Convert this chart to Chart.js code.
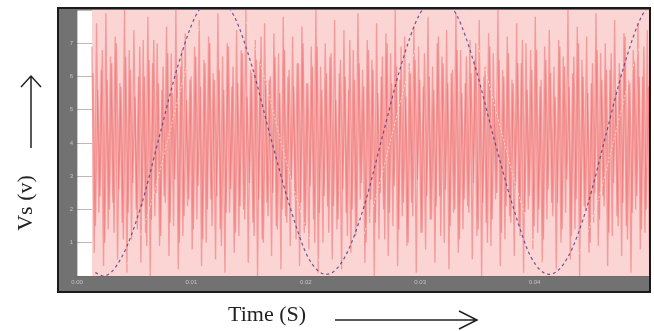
<!DOCTYPE html>
<html>
<head>
<meta charset="utf-8">
<script src="https://cdn.jsdelivr.net/npm/chart.js@4.4.1/dist/chart.umd.min.js"></script>
<style>
  html, body { margin: 0; padding: 0; background: #fff; }
  canvas { display: block; }
</style>
</head>
<body>
<canvas id="grafico" width="654" height="331"></canvas>
<script>
// Vs ruidosa: picos altos y valles alternados, muestreados desde T0 cada DT
const T0 = 0.13;
const DT = 0.0204;
const vsRuido = [
    6.9, 0.7, 7.6, 1.9, 6.2, 0.3, 7.9, 1.4, 6.6, 2.2, 7.2, 0.5, 5.8, 1.6, 8.0, 0.1,
    6.8, 1.1, 7.4, 2.0, 6.0, 0.4, 7.1, 1.3, 7.8, 0.0, 6.4, 1.8, 7.0, 0.9, 5.6, 2.4,
    7.5, 0.6, 6.7, 1.5, 8.0, 0.2, 6.3, 1.2, 7.3, 2.1, 5.9, 0.8, 6.9, 1.7, 7.7, 0.3,
    6.5, 1.0, 7.2, 2.3, 6.1, 0.5, 7.9, 1.4, 6.6, 0.1, 7.0, 1.9, 5.7, 0.7, 7.4, 1.2,
    6.8, 2.0, 8.0, 0.4, 6.2, 1.6, 7.1, 0.0, 6.5, 1.1, 7.6, 2.2, 5.9, 0.6, 7.3, 1.5,
    6.7, 0.2, 7.8, 1.8, 6.0, 0.9, 7.2, 2.4, 6.4, 0.3, 7.5, 1.3, 5.8, 0.8, 6.9, 1.7,
    8.0, 0.1, 6.3, 1.0, 7.0, 2.1, 6.6, 0.5, 7.7, 1.4, 6.1, 0.2, 7.4, 1.9, 5.6, 0.7,
    6.8, 1.2, 7.9, 2.3, 6.2, 0.4, 7.1, 1.6, 6.5, 0.0, 7.6, 1.1, 6.0, 2.0, 7.3, 0.6,
    6.7, 1.5, 8.0, 0.3, 5.9, 1.8, 7.2, 0.9, 6.4, 2.2, 7.5, 0.1, 6.9, 1.3, 5.7, 0.8,
    7.8, 1.7, 6.3, 0.4, 7.0, 2.4, 6.6, 1.0, 7.4, 0.2, 6.1, 1.9, 7.9, 0.7, 6.8, 1.4,
    5.8, 2.1, 7.1, 0.5, 6.5, 1.2, 7.7, 0.0, 6.0, 1.6, 7.3, 0.9, 6.7, 2.3, 8.0, 0.3,
    6.2, 1.1, 7.2, 1.8, 5.9, 0.6, 7.6, 1.5, 6.4, 0.1, 7.0, 2.0, 6.8, 0.8, 7.8, 1.3,
    5.7, 0.4, 6.9, 1.7, 7.4, 2.2, 6.3, 0.2, 7.1, 1.0, 6.6, 1.9, 8.0, 0.5, 6.1, 1.4,
    7.5, 0.0, 6.5, 2.1, 7.2, 0.7, 5.8, 1.6, 7.9, 0.9, 6.7, 2.4, 7.0, 0.3, 6.2, 1.2,
    7.7, 1.8, 6.4, 0.6, 7.3, 1.5, 5.9, 0.1, 6.8, 2.0, 7.6, 0.8, 6.0, 1.3, 7.4, 0.4
];

// segunda componente de conmutacion, desfasada medio paso
const vsRuido2 = [
    6.1, 1.5, 5.6, 2.4, 6.8, 1.0, 5.9, 2.0, 6.4, 1.3, 7.0, 2.6, 5.7, 1.1, 6.6, 1.9,
    6.2, 2.8, 5.4, 1.4, 6.9, 2.1, 6.0, 0.9, 6.5, 1.7, 7.1, 2.5, 5.8, 1.2, 6.3, 2.2,
    6.7, 1.6, 5.5, 2.9, 6.1, 1.0, 6.8, 1.8, 5.3, 2.3, 6.0, 1.4, 6.6, 2.7, 5.7, 1.1,
    6.4, 2.0, 7.0, 1.5, 5.9, 2.4, 6.2, 0.9, 5.6, 1.9, 6.9, 2.6, 6.3, 1.3, 5.8, 2.1,
    6.7, 1.7, 5.4, 2.8, 6.1, 1.2, 6.5, 2.3, 7.2, 1.0, 5.9, 1.8, 6.0, 2.5, 6.6, 1.4,
    5.5, 2.0, 6.8, 1.6, 6.2, 2.9, 5.7, 1.1, 6.4, 2.2, 7.0, 1.5, 5.8, 2.7, 6.3, 1.0,
    6.9, 1.9, 5.6, 2.4, 6.1, 1.3, 6.7, 2.1, 5.3, 1.7, 6.5, 2.6, 6.0, 1.2, 7.1, 2.0,
    5.9, 1.5, 6.4, 2.8, 5.7, 1.0, 6.8, 2.3, 6.2, 1.6, 5.5, 2.5, 6.6, 1.1, 7.0, 1.9,
    5.8, 2.7, 6.3, 1.4, 6.9, 2.2, 5.4, 1.0, 6.1, 1.8, 6.5, 2.9, 5.9, 1.3, 6.7, 2.4,
    6.0, 1.7, 5.6, 2.1, 7.2, 1.2, 6.4, 2.6, 5.8, 1.5, 6.2, 2.0, 6.8, 1.1, 5.5, 2.3,
    6.6, 1.9, 6.1, 2.8, 7.0, 1.4, 5.7, 2.2, 6.3, 1.0, 6.9, 1.7, 5.3, 2.5, 6.5, 1.3,
    6.0, 2.1, 6.7, 1.6, 5.8, 2.7, 6.4, 1.2, 7.1, 1.9, 5.6, 2.4, 6.2, 1.5, 6.8, 2.0,
    5.9, 1.1, 6.5, 2.6, 6.1, 1.8, 5.4, 2.2, 6.9, 1.4, 6.3, 2.9, 5.7, 1.2, 6.6, 2.3,
    7.0, 1.6, 6.0, 2.0, 5.5, 1.0, 6.4, 2.5, 6.8, 1.7, 5.9, 2.1, 6.2, 1.3, 6.7, 2.8,
    5.6, 1.5, 6.1, 2.2, 7.2, 1.1, 5.8, 1.9, 6.5, 2.4, 6.0, 1.4, 6.9, 2.0, 5.7, 1.6
];

// Vs fundamental (curva punteada azul)
const tFundamental = [0.16, 0.23, 0.39, 0.56, 0.72, 0.88, 1.04, 1.21, 1.37, 1.53, 1.69, 1.86,
    2.02, 2.18, 2.34, 2.51, 2.67, 2.83, 2.99, 3.16, 3.32, 3.48, 3.64, 3.81,
    3.97, 4.13, 4.29, 4.46, 4.62, 4.78, 4.94, 5.11];
const vsFundamental = [0.1, 0.0, 0.56, 2.1, 4.2, 6.3, 7.84, 8.4, 7.84, 6.3, 4.2, 2.1,
    0.56, 0.05, 0.56, 2.1, 4.2, 6.3, 7.84, 8.4, 7.84, 6.3, 4.2, 2.1,
    0.56, 0.05, 0.56, 2.1, 4.2, 6.3, 7.84, 8.4];

// Curva de referencia clara, algo desplazada
const tReferencia = [0.24, 0.31, 0.47, 0.64, 0.80, 0.96, 1.12, 1.29, 1.45, 1.61, 1.77, 1.94,
    2.10, 2.26, 2.42, 2.59, 2.75, 2.91, 3.07, 3.24, 3.40, 3.56, 3.72, 3.89,
    4.05, 4.21, 4.37, 4.54, 4.70, 4.86, 5.02];
const vsReferencia = [0.1, 0.0, 0.56, 2.1, 4.2, 6.3, 7.84, 8.4, 7.84, 6.3, 4.2, 2.1,
    0.56, 0.05, 0.56, 2.1, 4.2, 6.3, 7.84, 8.4, 7.84, 6.3, 4.2, 2.1,
    0.56, 0.05, 0.56, 2.1, 4.2, 6.3, 7.84];

const fondoInicio = 0.13;
const fondoFin = 5.0;
const vMax = 8;

const yTicks = ["", "1", "2", "3", "4", "5", "6", "7", ""];
const xTicks = ["0.00", "0.01", "0.02", "0.03", "0.04", ""];

function puntos(xs, ys) {
    return ys.map((y, i) => ({ x: xs[i], y: y }));
}

const puntosRuido = vsRuido.map((v, i) => ({ x: T0 + i * DT, y: v }));
const puntosRuido2 = vsRuido2.map((v, i) => ({ x: T0 + (i + 0.5) * DT, y: v }));

// marco gris, titulos de ejes y flechas
const marco = {
    id: "marco",
    beforeDraw(chart) {
        const { ctx, chartArea: a } = chart;
        ctx.save();
        ctx.fillStyle = "#727272";
        ctx.fillRect(58, 8, 592, 284);
        ctx.fillStyle = "#ffffff";
        ctx.fillRect(a.left, a.top, a.right - a.left, a.bottom - a.top);
        ctx.restore();
    },
    afterDraw(chart) {
        const ctx = chart.ctx;
        ctx.save();
        ctx.strokeStyle = "#1a1a1a";
        ctx.lineWidth = 2;
        ctx.strokeRect(58, 8, 592, 284);

        ctx.fillStyle = "#222";
        ctx.font = "22px 'Liberation Serif'";
        ctx.textBaseline = "alphabetic";
        ctx.fillText("Time (S)", 228, 321);

        ctx.save();
        ctx.translate(32, 203);
        ctx.rotate(-Math.PI / 2);
        ctx.textAlign = "center";
        ctx.fillText("Vs (v)", 0, 0);
        ctx.restore();

        ctx.strokeStyle = "#222";
        ctx.lineWidth = 1.5;
        ctx.beginPath();
        ctx.moveTo(31, 148); ctx.lineTo(31, 77);
        ctx.moveTo(21, 87); ctx.lineTo(31, 76); ctx.lineTo(41, 87);
        ctx.moveTo(335, 320); ctx.lineTo(476, 320);
        ctx.moveTo(459, 311); ctx.lineTo(477, 320); ctx.lineTo(459, 329);
        ctx.stroke();
        ctx.restore();
    }
};

const ctx = document.getElementById("grafico").getContext("2d");

new Chart(ctx, {
    type: "line",
    data: {
        datasets: [
            {
                label: "Vs fundamental",
                data: puntos(tFundamental, vsFundamental),
                borderColor: "rgba(75,55,130,0.8)",
                borderWidth: 1.2,
                borderDash: [3, 3],
                pointRadius: 0,
                cubicInterpolationMode: "monotone",
                order: 0,
                clip: 0,
            },
            {
                label: "Referencia",
                data: puntos(tReferencia, vsReferencia),
                borderColor: "rgba(248,228,205,0.8)",
                borderWidth: 1,
                borderDash: [2, 2],
                pointRadius: 0,
                cubicInterpolationMode: "monotone",
                order: 1,
                clip: 0,
            },
            {
                label: "Vs",
                data: puntosRuido,
                borderColor: "rgba(238,105,105,0.55)",
                borderWidth: 1.3,
                pointRadius: 0,
                tension: 0,
                order: 2,
                clip: 0,
            },
            {
                label: "Vs (2)",
                data: puntosRuido2,
                borderColor: "rgba(238,100,100,0.55)",
                borderWidth: 1.3,
                pointRadius: 0,
                tension: 0,
                order: 3,
                clip: 0,
            },
            {
                label: "fondo",
                data: [{ x: fondoInicio, y: vMax }, { x: fondoFin, y: vMax }],
                borderWidth: 0,
                backgroundColor: "rgba(251,212,212,1)",
                fill: "start",
                pointRadius: 0,
                order: 4,
                clip: 0,
            },
        ],
    },
    options: {
        responsive: false,
        animation: false,
        events: [],
        layout: { padding: { left: 58, top: 10, right: 5, bottom: 39 } },
        plugins: {
            legend: { display: false },
            tooltip: { enabled: false },
        },
        scales: {
            x: {
                type: "linear",
                min: 0,
                max: 5,
                afterFit(scale) { scale.height = 16; },
                ticks: {
                    stepSize: 1,
                    autoSkip: false,
                    maxRotation: 0,
                    padding: 3,
                    color: "#c4c4c4",
                    font: { size: 6, family: "Liberation Sans" },
                    callback: (v) => xTicks[v] ?? "",
                },
                grid: { color: "rgba(120,95,95,0.35)", lineWidth: 1, tickLength: 0 },
                border: { display: false },
            },
            y: {
                min: 0,
                max: vMax,
                afterFit(scale) { scale.width = 19; },
                ticks: {
                    stepSize: 1,
                    padding: 1,
                    color: "#c4c4c4",
                    font: { size: 6, family: "Liberation Sans" },
                    callback: (v) => yTicks[v] ?? "",
                },
                grid: { color: "rgba(120,95,95,0.45)", lineWidth: 1, tickLength: 3 },
                border: { display: false },
            },
        },
    },
    plugins: [marco],
});
</script>
</body>
</html>
